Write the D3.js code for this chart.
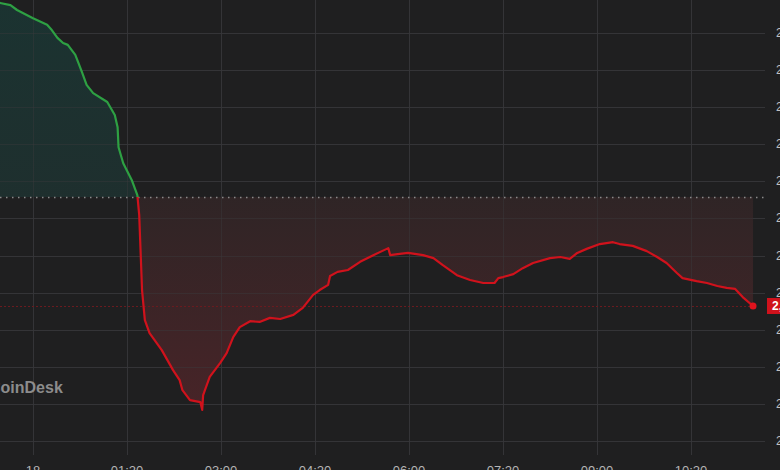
<!DOCTYPE html>
<html><head><meta charset="utf-8">
<script src="https://cdn.jsdelivr.net/npm/d3@7/dist/d3.min.js"></script>
<style>html,body{margin:0;padding:0;background:#1f1f20;overflow:hidden}svg{display:block}</style>
</head><body><svg id="c" width="780" height="470"></svg>
<script>
// minutes on a 100-min-per-tick axis
const times = [-46,-35,-24,-17,0,15,20,26,32,37,45,52,57,64,79,87,90,91,96,105,111,
 113,114,116,119,124,137,149,156,159,167,178,180,181,188,199,206,213,220,231,241,252,263,277,287,298,305,314,316,324,335,348,362,378,380,388,399,415,426,436,451,465,479,491,495,500,511,521,532,550,561,571,579,589,603,617,624,638,653,664,674,685,691,706,717,728,738,747,755,766];
const prices = [2508.6,2508.1,2507.5,2506.2,2504.0,2502.2,2500.8,2498.7,2497.3,2496.8,2494.1,2489.5,2486.0,2483.8,2481.4,2477.9,2474.6,2469.2,2464.9,2460.4,2456.3,
 2450.9,2444.2,2430.7,2422.6,2419.1,2414.5,2409.1,2406.4,2403.7,2401.0,2400.5,2398.4,2402.4,2407.3,2411.0,2413.7,2418.0,2420.7,2422.3,2422.1,2423.2,2422.9,2424.0,2425.9,2429.4,2430.7,2432.1,2434.5,2435.6,2436.1,2438.3,2440.1,2442.0,2440.1,2440.4,2440.7,2440.1,2439.3,2437.4,2434.7,2433.4,2432.6,2432.6,2433.9,2434.2,2435.0,2436.6,2438.0,2439.3,2439.6,2439.1,2440.7,2441.8,2443.1,2443.6,2443.1,2442.6,2441.2,2439.6,2438.0,2435.3,2433.9,2433.1,2432.6,2431.8,2431.3,2431.0,2428.8,2426.4];
const prevClose = 2455.8;
const lastPrice = 2426.4;
const xTickValues = [0,100,200,300,400,500,600,700];
const xTickLabels = ["18","01:20","03:00","04:20","06:00","07:20","09:00","10:20"];
const yTickValues = [2390,2400,2410,2420,2430,2440,2450,2460,2470,2480,2490,2500,2510];
const watermark = "CoinDesk";

const data = times.map((t,i)=>({t, p: prices[i]}));
const svg = d3.select("#c");
const W = 780, H = 470;
const plotRight = 765, plotBottom = 455;
const x = d3.scaleLinear().domain([0,700]).range([33,691]);
const y = d3.scaleLinear().domain([2390,2500]).range([441,33]);

svg.append("rect").attr("width",W).attr("height",H).attr("fill","#1f1f20");

const defs = svg.append("defs");
const gG = defs.append("linearGradient").attr("id","gg").attr("x1",0).attr("y1",0).attr("x2",0).attr("y2",1);
gG.append("stop").attr("offset","0%").attr("stop-color","#1b3331").attr("stop-opacity",1);
gG.append("stop").attr("offset","100%").attr("stop-color","#222b2b").attr("stop-opacity",1);
const rG = defs.append("linearGradient").attr("id","rg").attr("gradientUnits","userSpaceOnUse")
  .attr("x1",0).attr("y1",y(prevClose)).attr("x2",0).attr("y2",y(2398));
rG.append("stop").attr("offset","0%").attr("stop-color","#302526");
rG.append("stop").attr("offset","100%").attr("stop-color","#4a2428");

// grid
const grid = svg.append("g").attr("stroke","#313133").attr("stroke-width",1);
grid.selectAll("line.h").data(yTickValues.filter(v=>y(v)>0)).join("line")
  .attr("x1",0).attr("x2",plotRight).attr("y1",d=>Math.round(y(d))+0.5).attr("y2",d=>Math.round(y(d))+0.5);
grid.selectAll("line.v").data(xTickValues).join("line")
  .attr("y1",0).attr("y2",plotBottom).attr("x1",d=>Math.round(x(d))+0.5).attr("x2",d=>Math.round(x(d))+0.5);

// areas
const clipAbove = defs.append("clipPath").attr("id","ca");
clipAbove.append("rect").attr("x",-50).attr("y",-50).attr("width",900).attr("height",y(prevClose)+50);
const clipBelow = defs.append("clipPath").attr("id","cb");
clipBelow.append("rect").attr("x",-50).attr("y",y(prevClose)).attr("width",900).attr("height",600);

const area = d3.area().x(d=>x(d.t)).y0(y(prevClose)).y1(d=>y(d.p));
svg.append("path").datum(data).attr("d",area).attr("fill","url(#gg)").attr("clip-path","url(#ca)");
svg.append("path").datum(data).attr("d",area).attr("fill","url(#rg)").attr("clip-path","url(#cb)").attr("opacity",0.95);

// redraw grid faintly over area
const grid2 = svg.append("g").attr("stroke","#3a3a3c").attr("stroke-opacity",0.45).attr("stroke-width",1);
grid2.selectAll("line").data(yTickValues.filter(v=>y(v)>0)).join("line")
  .attr("x1",0).attr("x2",plotRight).attr("y1",d=>Math.round(y(d))+0.5).attr("y2",d=>Math.round(y(d))+0.5);
grid2.selectAll("line.v").data(xTickValues).join("line")
  .attr("y1",0).attr("y2",plotBottom).attr("x1",d=>Math.round(x(d))+0.5).attr("x2",d=>Math.round(x(d))+0.5);

// watermark
svg.append("text").attr("x",-11).attr("y",393).text(watermark)
  .attr("font-family","Liberation Sans, Arial, sans-serif").attr("font-weight","bold").attr("font-size",16).attr("fill","#8c8c8c");

// reference lines
svg.append("line").attr("x1",0).attr("x2",plotRight).attr("y1",Math.round(y(prevClose))+0.5).attr("y2",Math.round(y(prevClose))+0.5)
  .attr("stroke","#8a8a8a").attr("stroke-width",1.5).attr("stroke-dasharray","1.5,4.5");
svg.append("line").attr("x1",0).attr("x2",x(times[times.length-1])).attr("y1",Math.round(y(lastPrice))+0.5).attr("y2",Math.round(y(lastPrice))+0.5)
  .attr("stroke","#6a1a1f").attr("stroke-width",1).attr("stroke-dasharray","2,2");

// line
const line = d3.line().x(d=>x(d.t)).y(d=>y(d.p));
svg.append("path").datum(data).attr("d",line).attr("fill","none").attr("stroke","#2ea043").attr("stroke-width",2.2)
  .attr("stroke-linejoin","round").attr("clip-path","url(#ca)");
svg.append("path").datum(data).attr("d",line).attr("fill","none").attr("stroke","#d0121c").attr("stroke-width",2.2)
  .attr("stroke-linejoin","round").attr("clip-path","url(#cb)");

const last = data[data.length-1];
svg.append("circle").attr("cx",x(last.t)).attr("cy",y(last.p)).attr("r",3.5).attr("fill","#e0131d");

// y axis labels
svg.append("g").selectAll("text").data(yTickValues).join("text")
  .attr("x",776).attr("y",d=>y(d)+4).text(d=>d3.format(",.2f")(d))
  .attr("font-family","Liberation Sans, Arial, sans-serif").attr("font-size",12).attr("fill","#c0c0c0");

// price tag
svg.append("rect").attr("x",767).attr("y",y(lastPrice)-8).attr("width",60).attr("height",16).attr("fill","#d0121c");
svg.append("text").attr("x",772).attr("y",y(lastPrice)+4).text(d3.format(",.2f")(lastPrice))
  .attr("font-family","Liberation Sans, Arial, sans-serif").attr("font-weight","bold").attr("font-size",12).attr("fill","#ffffff");

// x axis labels
svg.append("g").selectAll("text").data(xTickValues).join("text")
  .attr("x",d=>x(d)).attr("y",475).attr("text-anchor","middle").text((d,i)=>xTickLabels[i])
  .attr("font-family","Liberation Sans, Arial, sans-serif").attr("font-size",13).attr("fill","#b5b5b5");
</script></body></html>
